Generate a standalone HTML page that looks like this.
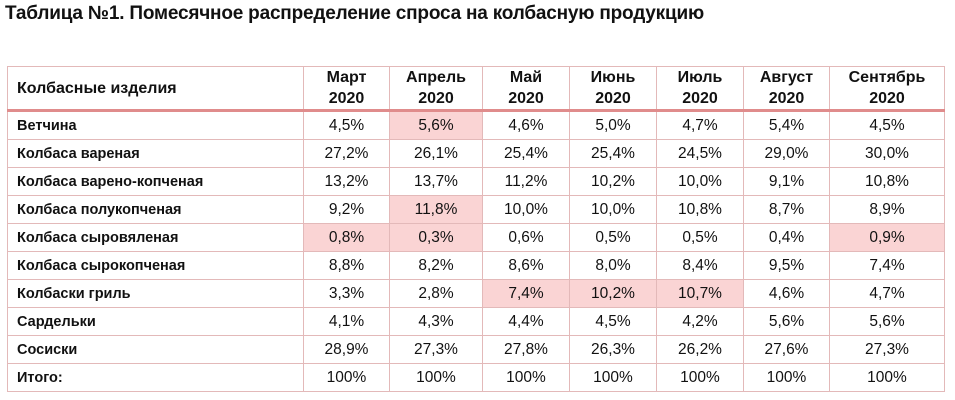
<!DOCTYPE html>
<html><head><meta charset="utf-8"><style>
body{margin:0;width:955px;height:400px;background:#fff;font-family:"Liberation Sans",sans-serif;position:relative;overflow:hidden}
.t{position:absolute;left:5px;top:3px;font-size:19px;font-weight:bold;color:#111;letter-spacing:-0.2px}
table{position:absolute;left:7px;top:66px;border-collapse:collapse;table-layout:fixed}
td{border:1px solid #e3b9b9;height:27px;padding:0;text-align:center;font-size:15.5px;color:#111}
td:first-child{text-align:left;padding-left:9px;font-weight:bold;font-size:14.5px}
tr.h td{height:42px;font-weight:bold;font-size:16px;line-height:21px;border-bottom:3px solid #e08c8c}
.p{background:#fad4d4}
</style></head><body>
<div class="t">Таблица №1. Помесячное распределение спроса на колбасную продукцию</div>
<table>
<colgroup><col style="width:296px"><col style="width:86px"><col style="width:93px"><col style="width:87px"><col style="width:87px"><col style="width:87px"><col style="width:86px"><col style="width:115px"></colgroup>
<tr class="h"><td>Колбасные изделия</td><td>Март<br>2020</td><td>Апрель<br>2020</td><td>Май<br>2020</td><td>Июнь<br>2020</td><td>Июль<br>2020</td><td>Август<br>2020</td><td>Сентябрь<br>2020</td></tr>
<tr><td>Ветчина</td><td>4,5%</td><td class="p">5,6%</td><td>4,6%</td><td>5,0%</td><td>4,7%</td><td>5,4%</td><td>4,5%</td></tr>
<tr><td>Колбаса вареная</td><td>27,2%</td><td>26,1%</td><td>25,4%</td><td>25,4%</td><td>24,5%</td><td>29,0%</td><td>30,0%</td></tr>
<tr><td>Колбаса варено-копченая</td><td>13,2%</td><td>13,7%</td><td>11,2%</td><td>10,2%</td><td>10,0%</td><td>9,1%</td><td>10,8%</td></tr>
<tr><td>Колбаса полукопченая</td><td>9,2%</td><td class="p">11,8%</td><td>10,0%</td><td>10,0%</td><td>10,8%</td><td>8,7%</td><td>8,9%</td></tr>
<tr><td>Колбаса сыровяленая</td><td class="p">0,8%</td><td class="p">0,3%</td><td>0,6%</td><td>0,5%</td><td>0,5%</td><td>0,4%</td><td class="p">0,9%</td></tr>
<tr><td>Колбаса сырокопченая</td><td>8,8%</td><td>8,2%</td><td>8,6%</td><td>8,0%</td><td>8,4%</td><td>9,5%</td><td>7,4%</td></tr>
<tr><td>Колбаски гриль</td><td>3,3%</td><td>2,8%</td><td class="p">7,4%</td><td class="p">10,2%</td><td class="p">10,7%</td><td>4,6%</td><td>4,7%</td></tr>
<tr><td>Сардельки</td><td>4,1%</td><td>4,3%</td><td>4,4%</td><td>4,5%</td><td>4,2%</td><td>5,6%</td><td>5,6%</td></tr>
<tr><td>Сосиски</td><td>28,9%</td><td>27,3%</td><td>27,8%</td><td>26,3%</td><td>26,2%</td><td>27,6%</td><td>27,3%</td></tr>
<tr><td>Итого:</td><td>100%</td><td>100%</td><td>100%</td><td>100%</td><td>100%</td><td>100%</td><td>100%</td></tr>
</table>
</body></html>
